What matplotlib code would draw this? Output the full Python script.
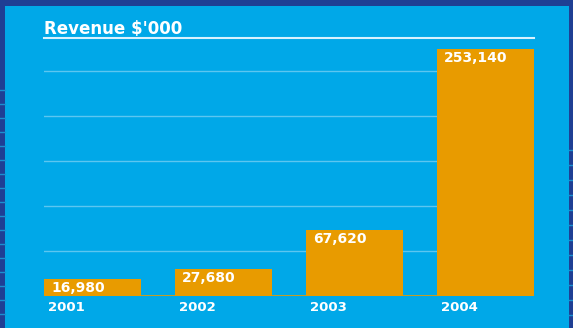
import matplotlib
matplotlib.use("Agg")
import matplotlib.pyplot as plt
from matplotlib.patches import Rectangle
from matplotlib.lines import Line2D

# data
years = ["2001", "2002", "2003", "2004"]
revenue = [16980, 27680, 67620, 253140]
value_labels = ["16,980", "27,680", "67,620", "253,140"]
title = "Revenue $'000"

DARK = "#1f3f94"
SKY = "#00a8e8"
ORANGE = "#e89b00"
GRID = "#5cc6f0"
W, H = 573, 328

fig = plt.figure(figsize=(W / 100, H / 100), dpi=100)
fig.patch.set_facecolor(DARK)

# light blue panel inside the dark frame
fig.add_artist(Rectangle((5 / W, 0), (569 - 5) / W, (H - 6) / H,
                         transform=fig.transFigure, facecolor=SKY,
                         edgecolor="none", zorder=0))
# small gaps in the side frames
for y in range(90, 328, 14):
    fig.add_artist(Line2D([0, 5 / W], [1 - y / H, 1 - y / H], transform=fig.transFigure,
                          color="#1a90d0", lw=1, zorder=0))
for y in range(150, 328, 15):
    fig.add_artist(Line2D([569 / W, 1], [1 - y / H, 1 - y / H], transform=fig.transFigure,
                          color="#1a90d0", lw=1, zorder=0))

ax = fig.add_axes([44 / W, (H - 296) / H, (534 - 44) / W, (296 - 38) / H])
ax.set_facecolor("none")

x = range(len(years))
ax.bar(x, revenue, width=0.74, color=ORANGE, zorder=3)
ax.set_xlim(-0.37, 3.37)
ax.set_ylim(0, 264000)

# gridlines
for g in range(46000, 264000, 46000):
    ax.axhline(g, color=GRID, lw=1, zorder=1)
ax.axhline(264000, color="#d8f2ff", lw=1.5, zorder=2, clip_on=False)
ax.axhline(0, color=ORANGE, lw=1.2, zorder=2)

for i, (v, lab, yr) in enumerate(zip(revenue, value_labels, years)):
    ax.annotate(lab, (i - 0.37, v), xytext=(5, -1.5), textcoords="offset points",
                ha="left", va="top", color="white", fontsize=10,
                fontweight="bold", zorder=4)
    ax.annotate(yr, (i - 0.37, 0), xytext=(3, -8), textcoords="offset points",
                ha="left", va="center", color="white", fontsize=9.5,
                fontweight="bold", annotation_clip=False)

ax.text(0, 1.0, title, transform=ax.transAxes, ha="left", va="bottom",
        color="white", fontsize=12, fontweight="bold")

for s in ax.spines.values():
    s.set_visible(False)
ax.set_xticks([])
ax.set_yticks([])

fig.savefig("out.png", dpi=100, facecolor=fig.get_facecolor())
